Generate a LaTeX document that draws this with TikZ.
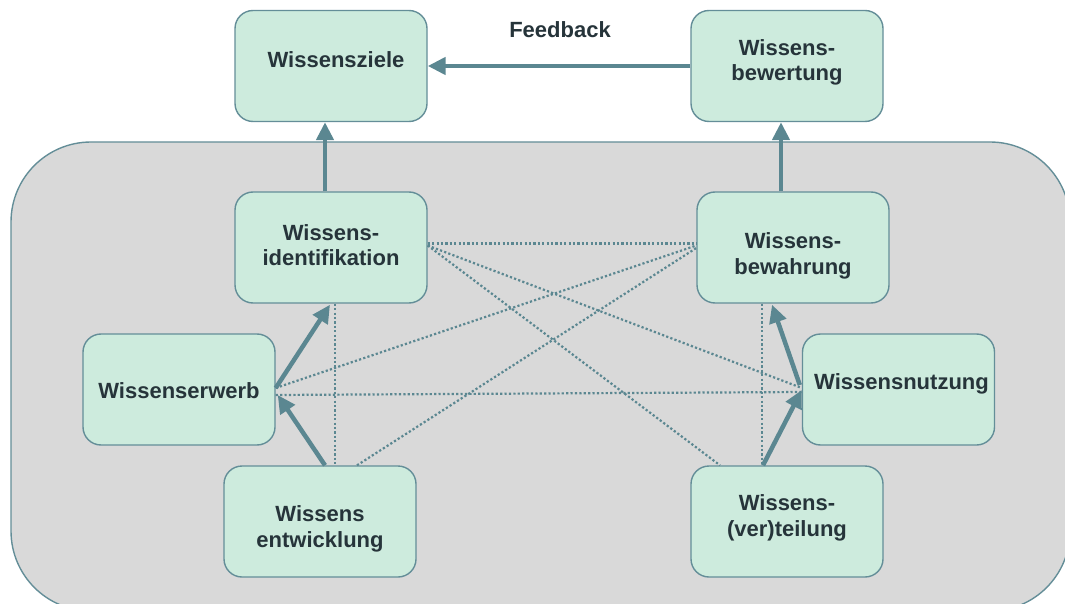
\documentclass[tikz,border=0pt]{standalone}
\usepackage{fontspec}
\setmainfont{Liberation Sans}
\usetikzlibrary{arrows.meta}
\definecolor{boxfill}{RGB}{205,235,221}
\definecolor{boxline}{RGB}{100,142,152}
\definecolor{flow}{RGB}{91,135,145}
\definecolor{panel}{RGB}{217,217,217}
\definecolor{ink}{RGB}{38,52,58}
\tikzset{
  box/.style={draw=boxline, line width=1.4pt, fill=boxfill, rounded corners=18pt,
              minimum width=192pt, minimum height=111pt, inner sep=0pt},
  txt/.style={text=ink, align=center, inner sep=0pt,
              font=\fontsize{22}{25.5}\selectfont\bfseries},
  flowarrow/.style={draw=flow, line width=4.5pt,
              -{Triangle[length=18pt,width=17pt]}},
  link/.style={draw=flow, line width=2.2pt, dash pattern=on 2.2pt off 2.2pt}
}
\begin{document}
\begin{tikzpicture}[x=1pt,y=-1pt]
  \useasboundingbox (0,0) rectangle (1065,604);
  \fill[white] (0,0) rectangle (1065,604);
  % shared panel behind the core building blocks
  \draw[draw=boxline, line width=1.4pt, fill=panel, rounded corners=80pt]
    (11,142) rectangle (1070,611);

  % building blocks
  \node[box] (ziel)    at (331,66)    {};
  \node[box] (bewert)  at (787,66)    {};
  \node[box] (ident)   at (331,247.5) {};
  \node[box] (bewahr)  at (793,247.5) {};
  \node[box] (erwerb)  at (179,389.5) {};
  \node[box] (nutz)    at (898.5,389.5) {};
  \node[box] (entw)    at (320,521.5) {};
  \node[box] (vert)    at (787,521.5) {};

  \node[txt] (tziel)   at ([xshift=5pt,yshift=6pt]ziel.center) {Wissensziele};
  \node[txt] (tbewert) at ([yshift=3.5pt]bewert.center) {Wissens-\\bewertung};
  \node[txt] (tident)  at ([yshift=2.5pt]ident.center) {Wissens-\\identifikation};
  \node[txt] (tbewahr) at ([yshift=-8.5pt]bewahr.center) {Wissens-\\bewahrung};
  \node[txt] (terwerb) at ([yshift=-1.5pt]erwerb.center) {Wissenserwerb};
  \node[txt] (tnutz)   at ([xshift=3pt,yshift=5.5pt]nutz.center) {Wissensnutzung};
  \node[txt] (tentw)   at ([yshift=-7.5pt]entw.center) {Wissens\\entwicklung};
  \node[txt] (tvert)   at ([yshift=3.5pt]vert.center) {Wissens-\\(ver)teilung};

  \node[txt] (feedback) at (560,30) {Feedback};

  % dotted cross links
  \draw[link] ([yshift=4pt]ident.east) -- ([yshift=4pt]bewahr.west);
  \draw[link] ([yshift=2pt]ident.east) -- ([yshift=1.5pt]nutz.west);
  \draw[link] ([yshift=2pt]ident.east) -- ([xshift=-67pt]vert.north);
  \draw[link] ([xshift=4pt]ident.south) -- ([xshift=15pt]entw.north);
  \draw[link] ([yshift=1.5pt]erwerb.east) -- ([yshift=2pt]bewahr.west);
  \draw[link] ([yshift=-5.5pt]erwerb.east) -- ([yshift=-2.5pt]nutz.west);
  \draw[link] ([xshift=37pt]entw.north) -- ([yshift=-0.5pt]bewahr.west);
  \draw[link] ([xshift=-31pt]bewahr.south) -- ([xshift=-25pt]vert.north);

  % main flow arrows
  \draw[flowarrow] (bewert.west) -- (ziel.east);
  \draw[flowarrow] ([xshift=-6pt]ident.north) -- ([xshift=-6pt]ziel.south);
  \draw[flowarrow] ([xshift=-12pt]bewahr.north) -- ([xshift=-6pt]bewert.south);
  \draw[flowarrow] ([yshift=1.5pt]erwerb.east) -- ([xshift=-1pt,yshift=-1pt]ident.south);
  \draw[flowarrow] ([xshift=5pt]entw.north) -- ([xshift=2pt,yshift=-5.5pt]erwerb.east);
  \draw[flowarrow] ([xshift=-24pt]vert.north) -- ([yshift=-0.5pt]nutz.west);
  \draw[flowarrow] ([xshift=-2pt,yshift=4.5pt]nutz.west) -- ([xshift=-21pt,yshift=-1pt]bewahr.south);
\end{tikzpicture}
\end{document}
